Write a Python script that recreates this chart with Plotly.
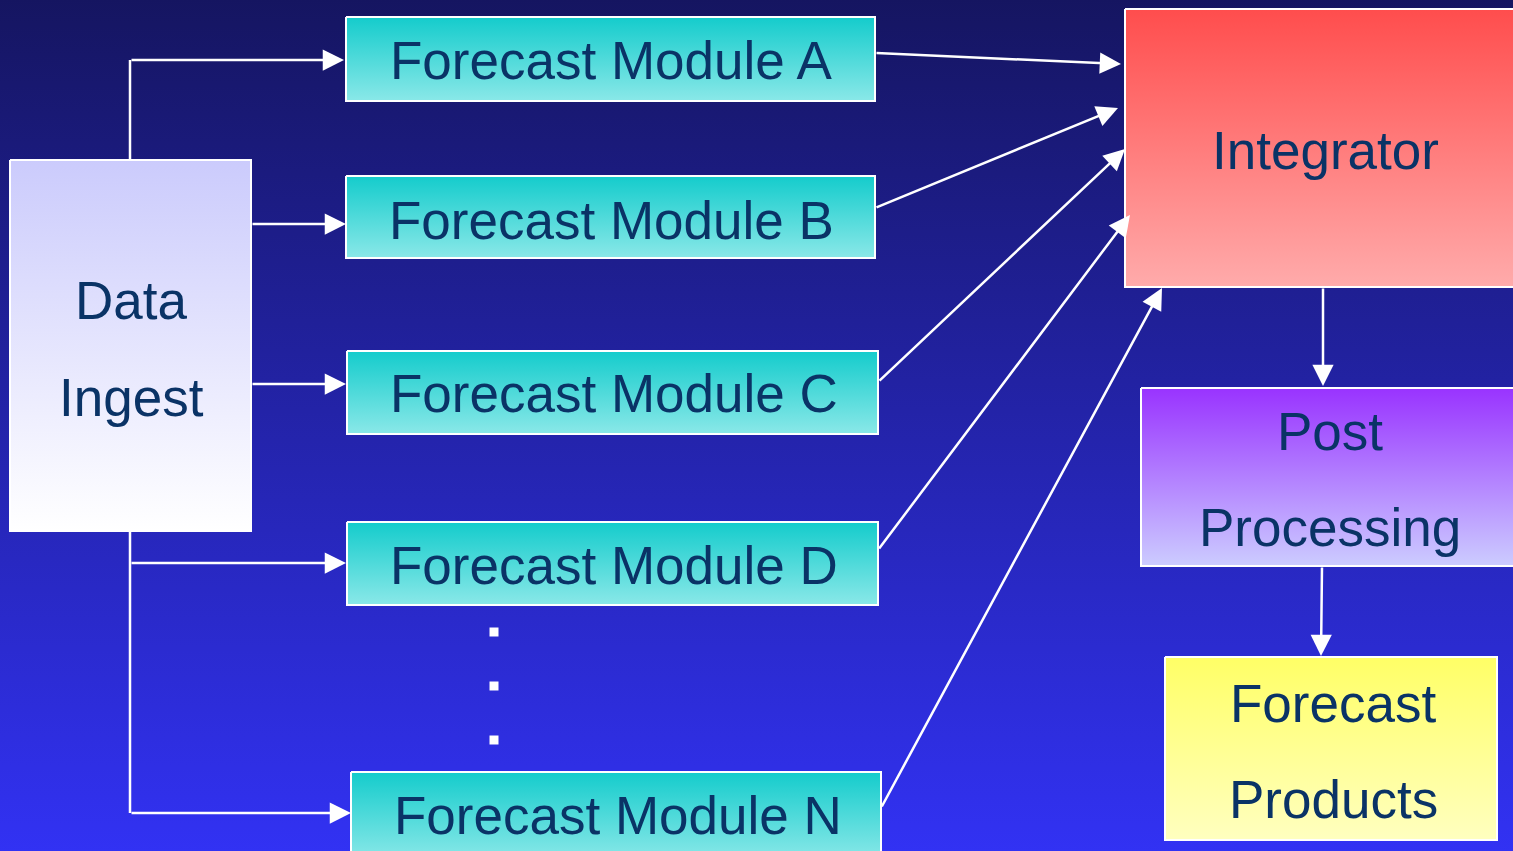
import plotly.graph_objects as go

# ---- content ----
module_labels = ["Forecast Module A", "Forecast Module B", "Forecast Module C",
                 "Forecast Module D", "Forecast Module N"]
ingest_lines = ["Data", "Ingest"]
integrator_lines = ["Integrator"]
post_lines = ["Post", "Processing"]
products_lines = ["Forecast", "Products"]

# ---- layout (pixel space, y downward) ----
W, H = 1513, 851
module_boxes = [(346, 875, 17, 101), (346, 875, 176, 258), (347, 878, 351, 434),
                (347, 878, 522, 605), (351, 881, 772, 860)]
module_text_pos = [(611, 60), (611, 220), (614, 393), (614, 565), (618, 815)]
ingest_box = (10, 251, 160, 531)
integ_box = (1125, 1525, 9, 287)
post_box = (1141, 1525, 388, 566)
prod_box = (1165, 1497, 657, 840)

NAVY = "#0A3366"
FONT = "Liberation Sans, Arial, sans-serif"

fig = go.Figure()


def grad_box(box, c_top, c_bot, line="white", lw=2):
    x0, x1, y0, y1 = box
    fig.add_trace(go.Scatter(
        x=[x0, x1, x1, x0, x0], y=[y0, y0, y1, y1, y0], mode="lines",
        fill="toself",
        fillgradient=dict(type="vertical", start=y0, stop=y1,
                          colorscale=[[0, c_top], [1, c_bot]]),
        line=dict(color=line, width=lw), hoverinfo="skip", showlegend=False))


# background
grad_box((-5, W + 5, -5, H + 5), "#151560", "#3232F4", line="rgba(0,0,0,0)", lw=0)

# connector lines (no arrowheads)
plain_lines = [
    ([130, 130], [160, 60]),
    ([130, 130], [531, 813]),
]
for xs, ys in plain_lines:
    fig.add_trace(go.Scatter(x=xs, y=ys, mode="lines",
                             line=dict(color="white", width=2.5),
                             hoverinfo="skip", showlegend=False))

# boxes
grad_box(ingest_box, "#CBCBFC", "#FFFFFF")
for b in module_boxes:
    grad_box(b, "#14CCCC", "#8AE8E8")
grad_box(integ_box, "#FF4D4D", "#FFABAB")
grad_box(post_box, "#9933FF", "#CCCCFF")
grad_box(prod_box, "#FFFF66", "#FFFFBF")

# dots
fig.add_trace(go.Scatter(x=[494, 494, 494], y=[632, 686, 740], mode="markers",
                         marker=dict(symbol="square", size=9, color="white"),
                         hoverinfo="skip", showlegend=False))

# arrows (tail -> head)
arrows = [
    ((130, 60), (344, 60)),
    ((251, 224), (346, 224)),
    ((251, 384), (346, 384)),
    ((130, 563), (346, 563)),
    ((130, 813), (351, 813)),
    ((875, 53), (1121, 64)),
    ((875, 208), (1118, 108)),
    ((878, 382), (1125, 149)),
    ((878, 550), (1130, 215)),
    ((881, 808), (1162, 288)),
    ((1323, 287), (1323, 386)),
    ((1322, 566), (1321, 656)),
]
annotations = []
for (tx, ty), (hx, hy) in arrows:
    annotations.append(dict(x=hx, y=hy, ax=tx, ay=ty, xref="x", yref="y",
                            axref="x", ayref="y", text="", showarrow=True,
                            arrowhead=2, arrowsize=1.7, arrowwidth=2.5,
                            arrowcolor="white", standoff=0))


def add_text(lines, cx, ys, size=53):
    for t, y in zip(lines, ys):
        annotations.append(dict(x=cx, y=y, xref="x", yref="y", text=t,
                                showarrow=False,
                                font=dict(family=FONT, size=size, color=NAVY)))


for lab, (cx, cy) in zip(module_labels, module_text_pos):
    add_text([lab], cx, [cy])
add_text(ingest_lines, 131, [300, 397])
add_text(integrator_lines, 1325, [150])
add_text(post_lines, 1330, [431, 527])
add_text(products_lines, 1333, [703, 799])

fig.update_layout(
    width=W, height=H, margin=dict(l=0, r=0, t=0, b=0),
    paper_bgcolor="#1E1E90", plot_bgcolor="#1E1E90",
    xaxis=dict(range=[0, W], visible=False, fixedrange=True),
    yaxis=dict(range=[H, 0], visible=False, fixedrange=True),
    annotations=annotations, showlegend=False,
)
fig.write_html("out.html", config={"displayModeBar": False},
               post_script="document.body.style.margin='0';document.body.style.overflow='hidden';")
